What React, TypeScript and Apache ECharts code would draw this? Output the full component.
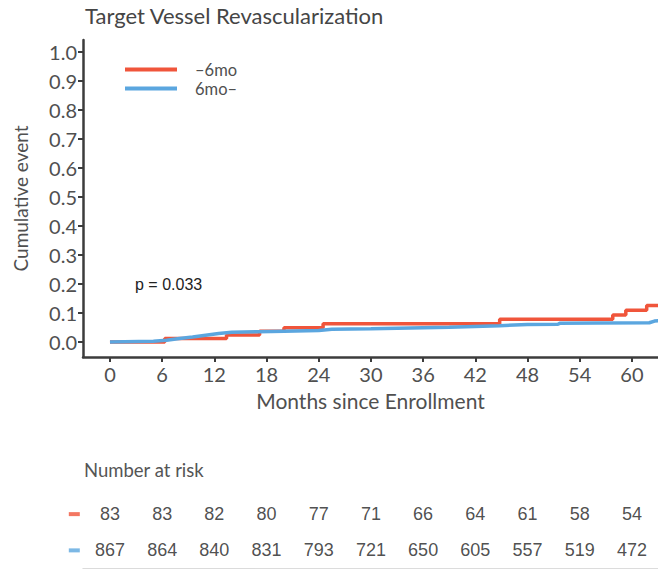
import React, { useEffect, useRef } from "react";
import * as echarts from "echarts";

// Kaplan–Meier style cumulative incidence, step points (months, cumulative event)
const earlyMonths = [0, 6.3, 13.4, 17.2, 20.0, 24.5, 44.8, 57.8, 59.3, 61.7, 63.2];
const earlyEvent = [0, 0.012, 0.024, 0.037, 0.049, 0.063, 0.078, 0.093, 0.109, 0.126, 0.126];

const lateMonths = [0, 5.0, 6.5, 8.0, 9.5, 11.0, 12.5, 14.0, 17.0, 20.0, 24.0, 25.5, 30.0, 36.0, 39.0, 44.8, 48.0, 51.5, 51.7, 56.0, 62.0, 62.6, 63.2];
const lateEvent = [0, 0.002, 0.006, 0.012, 0.017, 0.023, 0.029, 0.033, 0.035, 0.037, 0.039, 0.044, 0.045, 0.049, 0.051, 0.056, 0.060, 0.061, 0.064, 0.065, 0.066, 0.072, 0.074];

const seriesNames = ["\u20136mo", "6mo\u2013"];
const seriesColors = ["#F0553B", "#5BA6DF"];

const xTicks = [0, 6, 12, 18, 24, 30, 36, 42, 48, 54, 60];
const yTicks = [0, 0.1, 0.2, 0.3, 0.4, 0.5, 0.6, 0.7, 0.8, 0.9, 1.0];

// Number at risk at each x tick
const riskEarly = [83, 83, 82, 80, 77, 71, 66, 64, 61, 58, 54];
const riskLate = [867, 864, 840, 831, 793, 721, 650, 605, 557, 519, 472];

const pValueText = "p = 0.033";

const X_MIN = -3.1;
const X_MAX = 63.0;
const Y_MIN = -0.052;
const Y_MAX = 1.041;

const sansUI = "Lato, 'Open Sans', sans-serif";
const narrow = "'Liberation Sans Narrow', 'Arial Narrow', 'Liberation Sans', sans-serif";
const textGray = "#454545";

export default function App() {
  const ref = useRef<HTMLDivElement | null>(null);

  useEffect(() => {
    document.body.style.margin = "0";
    if (!ref.current) return;
    const chart = echarts.init(ref.current, undefined, { renderer: "svg" });

    const pairs = (xs: number[], ys: number[]) => xs.map((x, i) => [x, ys[i]]);

    const riskRow = (counts: number[], row: string) =>
      counts.map((n, i) => [xTicks[i], row, n]);

    const riskLabel = {
      show: true,
      position: "inside" as const,
      formatter: (p: any) => String(p.value[2]),
      fontFamily: narrow,
      fontSize: 18,
      color: "#222222",
    };

    const option: echarts.EChartsOption = {
      animation: false,
      backgroundColor: "#ffffff",
      title: [
        {
          text: "Target Vessel Revascularization",
          left: 85,
          top: 4,
          padding: 0,
          textStyle: { fontFamily: sansUI, fontSize: 22, fontWeight: "normal", color: textGray },
        },
        {
          text: "Number at risk",
          left: 84,
          top: 460,
          padding: 0,
          textStyle: { fontFamily: sansUI, fontSize: 18.5, fontWeight: "normal", color: "#555555" },
        },
      ],
      legend: {
        data: seriesNames,
        orient: "vertical",
        left: 125,
        top: 61,
        padding: 0,
        itemGap: 2,
        itemWidth: 52,
        itemHeight: 4,
        icon: "rect",
        textStyle: { fontFamily: sansUI, fontSize: 16.5, color: "#505050", padding: [0, 0, 0, 13] },
      },
      graphic: [
        {
          type: "text",
          left: 135,
          top: 276,
          style: { text: pValueText, fontFamily: "'Liberation Sans', Arial, sans-serif", fontSize: 16, fill: "#222222" },
        },
      ],
      grid: [
        { left: 83, top: 40, width: 575, height: 317 },
        { left: 83, top: 496, width: 575, height: 72.5 },
      ],
      xAxis: [
        {
          type: "value",
          gridIndex: 0,
          min: X_MIN,
          max: X_MAX,
          name: "Months since Enrollment",
          nameLocation: "middle",
          nameGap: 33,
          nameTextStyle: { fontFamily: sansUI, fontSize: 21, color: "#505050" },
          axisLine: { show: true, onZero: false, lineStyle: { color: "#3c3c3c", width: 2.5 } },
          axisTick: { show: true, customValues: xTicks, length: 5, lineStyle: { color: "#3c3c3c", width: 2 } },
          axisLabel: {
            customValues: xTicks,
            margin: 7,
            fontFamily: sansUI,
            fontSize: 20,
            color: "#505050",
          },
          splitLine: { show: false },
        },
        {
          type: "value",
          gridIndex: 1,
          min: X_MIN,
          max: X_MAX,
          axisLine: { show: true, lineStyle: { color: "#d0d0d0", width: 1.5 } },
          axisTick: { show: false },
          axisLabel: { show: false },
          splitLine: { show: false },
        },
      ],
      yAxis: [
        {
          type: "value",
          gridIndex: 0,
          min: Y_MIN,
          max: Y_MAX,
          name: "Cumulative event",
          nameLocation: "middle",
          nameGap: 53,
          nameTextStyle: { fontFamily: sansUI, fontSize: 19, color: "#505050" },
          axisLine: { show: true, onZero: false, lineStyle: { color: "#3c3c3c", width: 2.5 } },
          axisTick: { show: true, customValues: yTicks, length: 5, lineStyle: { color: "#3c3c3c", width: 2 } },
          axisLabel: {
            customValues: yTicks,
            margin: 6,
            fontFamily: sansUI,
            fontSize: 20,
            color: "#505050",
            formatter: (v: number) => v.toFixed(1),
          },
          splitLine: { show: false },
        },
        {
          type: "category",
          gridIndex: 1,
          data: ["early", "late"],
          inverse: true,
          show: false,
        },
      ],
      series: [
        {
          name: seriesNames[0],
          type: "line",
          xAxisIndex: 0,
          yAxisIndex: 0,
          step: "end",
          showSymbol: false,
          z: 3,
          color: seriesColors[0],
          lineStyle: { width: 3.5, color: seriesColors[0] },
          data: pairs(earlyMonths, earlyEvent),
        },
        {
          name: seriesNames[1],
          type: "line",
          xAxisIndex: 0,
          yAxisIndex: 0,
          showSymbol: false,
          z: 4,
          color: seriesColors[1],
          lineStyle: { width: 3.5, color: seriesColors[1] },
          data: pairs(lateMonths, lateEvent),
        },
        {
          type: "scatter",
          xAxisIndex: 1,
          yAxisIndex: 1,
          symbolSize: 0,
          silent: true,
          label: riskLabel,
          data: riskRow(riskEarly, "early"),
        },
        {
          type: "scatter",
          xAxisIndex: 1,
          yAxisIndex: 1,
          symbolSize: 0,
          silent: true,
          label: riskLabel,
          data: riskRow(riskLate, "late"),
        },
        {
          type: "scatter",
          xAxisIndex: 1,
          yAxisIndex: 1,
          clip: false,
          silent: true,
          symbol: "rect",
          symbolSize: [11, 4],
          itemStyle: { color: (p: any) => seriesColors[p.dataIndex] },
          data: [
            [-4.1, "early"],
            [-4.1, "late"],
          ],
        },
      ],
    };

    chart.setOption(option);
    return () => chart.dispose();
  }, []);

  return (
    <div
      ref={ref}
      style={{ position: "fixed", left: 0, top: 0, width: 658, height: 569 }}
    />
  );
}
